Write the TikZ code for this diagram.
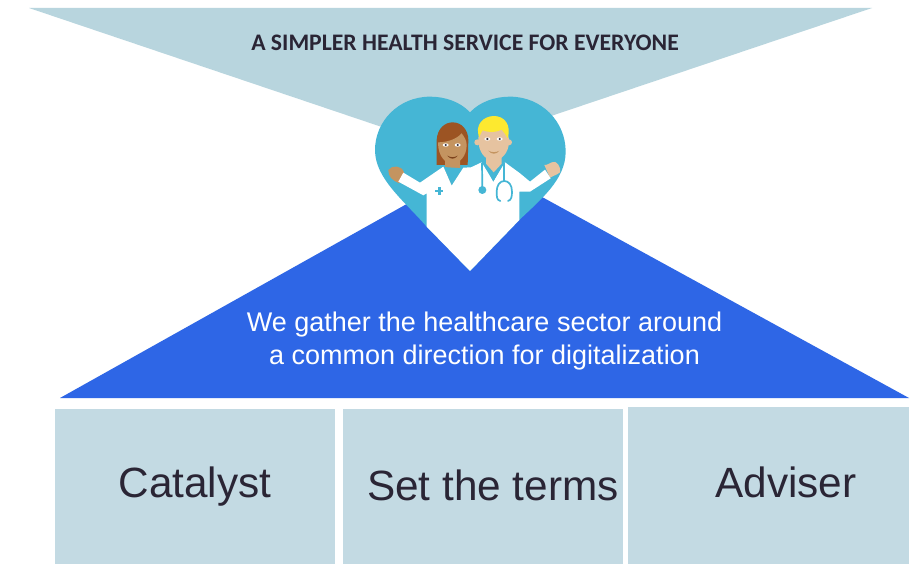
\documentclass[tikz,border=0pt]{standalone}
\usepackage{fontspec}
\setmainfont{Liberation Sans}
\newfontfamily\titlefont{Carlito}
\definecolor{lighttri}{HTML}{B8D5DE}
\definecolor{boxblue}{HTML}{C3DAE3}
\definecolor{bluetri}{HTML}{2E66E6}
\definecolor{heartblue}{HTML}{45B6D5}
\definecolor{inkdark}{HTML}{2A2535}
\definecolor{hairbrown}{HTML}{9C5423}
\definecolor{skintan}{HTML}{C49460}
\definecolor{skinlight}{HTML}{E6C3A0}
\definecolor{hairyellow}{HTML}{FDE92F}
\tikzset{
  pillar/.style={fill=boxblue,draw=none},
  pillartext/.style={text=inkdark,font=\fontsize{42.3}{48}\selectfont,inner sep=0pt,anchor=base},
  steth/.style={draw=heartblue,line width=1.7pt,fill=none,line cap=round}
}
\begin{document}
\begin{tikzpicture}[x=1pt,y=-1pt]
\useasboundingbox (0,0) rectangle (918,564);
\fill[white] (0,0) rectangle (918,564);
% triangles
\fill[lighttri] (29,8) -- (872,8) -- (450,150) -- cycle;
\fill[bluetri] (60,398) -- (480,163) -- (909,398) -- cycle;
% pillars
\fill[pillar] (54.5,409) rectangle (335,564);
\fill[pillar] (342.5,409) rectangle (623,564);
\fill[pillar] (627.5,407) rectangle (908.5,564);
% texts
\node[text=inkdark,font=\titlefont\bfseries\fontsize{23.7}{26}\selectfont,inner sep=0pt,anchor=base] (title) at (465,50.5) {A SIMPLER HEALTH SERVICE FOR EVERYONE};
\node[text=white,font=\fontsize{27}{33}\selectfont,inner sep=0pt,anchor=base] (line1) at (484.5,331) {We gather the healthcare sector around};
\node[text=white,font=\fontsize{27}{33}\selectfont,inner sep=0pt,anchor=base] (line2) at (484.5,364) {a common direction for digitalization};
\node[pillartext] (catalyst) at (195,497) {Catalyst};
\node[pillartext] (terms) at (493,500) {Set the terms};
\node[pillartext] (adviser) at (786,497) {Adviser};
% heart and doctors, in the coordinates of a 3x crop
\begin{scope}[shift={(360,85)},x=0.33333pt,y=-0.33333pt]
  \fill[heartblue] (330,82) .. controls (300,50) and (255,35) .. (210,35)
    .. controls (115,35) and (45,110) .. (45,195)
    .. controls (45,280) and (130,345) .. (200,425)
    -- (330,558) -- (478,405)
    .. controls (540,345) and (617,285) .. (617,200)
    .. controls (617,110) and (545,35) .. (450,35)
    .. controls (405,35) and (360,50) .. (330,82) -- cycle;
  % hands
  \fill[skintan] (85,255) .. controls (95,240) and (125,240) .. (132,262)
    -- (118,295) .. controls (95,285) and (85,275) .. (85,255) -- cycle;
  \fill[skinlight] (553,240) .. controls (565,240) and (565,235) .. (575,232)
    .. controls (590,222) and (605,250) .. (600,262)
    .. controls (590,270) and (580,272) .. (570,278) -- cycle;
  % woman
  \fill[hairbrown] (230,240) -- (230,165) .. controls (232,130) and (255,112) .. (278,112)
    .. controls (305,112) and (325,135) .. (325,165) -- (323,240) -- cycle;
  \fill[skintan] (255,225) -- (300,225) -- (300,265) -- (275,300) -- (255,265) -- cycle;
  \fill[skintan] (234,172) .. controls (262,172) and (290,162) .. (305,145)
    .. controls (312,155) and (320,165) .. (320,180)
    .. controls (320,215) and (297,236) .. (277,236)
    .. controls (257,236) and (234,215) .. (234,172) -- cycle;
  % man
  \fill[skinlight] (345,170) circle (0);
  \fill[skinlight] (352,172) circle (9);
  \fill[skinlight] (447,172) circle (9);
  \fill[skinlight] (355,165) .. controls (355,130) and (370,115) .. (400,115)
    .. controls (430,115) and (447,135) .. (447,172)
    .. controls (445,205) and (425,226) .. (400,226)
    .. controls (375,226) and (355,200) .. (355,165) -- cycle;
  \fill[hairyellow] (358,158) .. controls (342,118) and (372,93) .. (402,93)
    .. controls (432,93) and (455,118) .. (443,160)
    .. controls (438,150) and (432,142) .. (425,134)
    .. controls (408,143) and (385,143) .. (368,136)
    .. controls (363,142) and (360,150) .. (358,158) -- cycle;
  % coat
  \fill[heartblue] (250,246) -- (310,250) -- (275,302) -- cycle;
  \fill[white] (115,290) -- (130,263) -- (180,293) -- (250,245) -- (275,302) -- (310,248)
    -- (333,247) -- (365,232) -- (400,290) -- (435,232) -- (480,265) -- (510,290)
    -- (555,254) -- (572,280) -- (510,320) -- (478,320) -- (478,405)
    -- (330,558) -- (200,425) -- (200,325) -- (190,331) -- cycle;
  % man's collar and neck
  \fill[heartblue] (374,234) -- (429,234) -- (400,290) -- cycle;
  \fill[skinlight] (378,205) -- (425,205) -- (425,236) -- (401,262) -- (378,236) -- cycle;
  % cross
  \fill[heartblue] (233,306) rectangle (242,330);
  \fill[heartblue] (225,314) rectangle (250,322);
  % stethoscope
  \draw[steth] (366,235) -- (367,310);
  \fill[heartblue] (367,315) circle (12);
  \draw[steth] (433,235) -- (433,288);
  \draw[steth] (421,348) .. controls (410,345) and (410,335) .. (410,320)
    .. controls (410,300) and (420,288) .. (433,288)
    .. controls (446,288) and (456,300) .. (456,320)
    .. controls (456,335) and (454,345) .. (444,348);
  % eyes
  \foreach \ex/\ey in {257/180,293/180,382/162,419/162}{
    \fill[white] (\ex,\ey) ellipse (9 and 5);
    \fill[inkdark] (\ex,\ey) circle (3.5);
  }
  % mouths
  \fill[hairbrown!80!black] (262,212) .. controls (272,218) and (283,218) .. (293,212)
    .. controls (285,224) and (270,224) .. (262,212) -- cycle;
  \fill[skintan] (385,197) .. controls (395,203) and (408,203) .. (418,197)
    .. controls (410,209) and (393,209) .. (385,197) -- cycle;
\end{scope}
\end{tikzpicture}
\end{document}
